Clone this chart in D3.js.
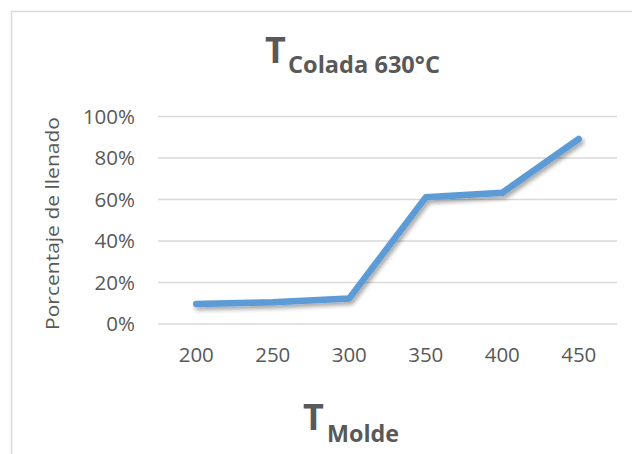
<!DOCTYPE html>
<html>
<head>
<meta charset="utf-8">
<script src="https://cdn.jsdelivr.net/npm/d3@7"></script>
<style>
  html, body { margin: 0; padding: 0; background: #fff; }
  svg { display: block; }
  text { font-family: "Open Sans", "Noto Sans", sans-serif; fill: #595959; }
</style>
</head>
<body>
<svg id="chart" width="632" height="454"></svg>
<script>
// Mould temperature (°C) categories and filling percentage
const categories = ["200", "250", "300", "350", "400", "450"];
const fillValues = [0.094, 0.102, 0.121, 0.608, 0.630, 0.889];
const yTicks = [0, 0.2, 0.4, 0.6, 0.8, 1.0];

const svg = d3.select("#chart");
const W = 632, H = 454;
const plot = { left: 158, right: 617, top: 116, bottom: 323.5 };

// Chart frame (top and left edges only visible)
svg.append("path")
  .attr("d", `M11.5,${H} V11.5 H${W}`)
  .attr("fill", "none")
  .attr("stroke", "#d9d9d9")
  .attr("stroke-width", 1.5);

const x = d3.scaleBand().domain(categories).range([plot.left, plot.right]).padding(0);
const y = d3.scaleLinear().domain([0, 1]).range([plot.bottom, plot.top]);

// Y axis with horizontal gridlines
const yAxis = d3.axisLeft(y)
  .tickValues(yTicks)
  .tickFormat(d3.format(".0%"))
  .tickSize(-(plot.right - plot.left))
  .tickPadding(23);
const gy = svg.append("g").attr("transform", `translate(${plot.left},0)`).call(yAxis);
gy.select(".domain").remove();
gy.selectAll(".tick line").attr("stroke", "#d9d9d9").attr("stroke-width", 1.5);
gy.selectAll(".tick text").attr("font-size", 20.5).attr("fill", "#595959")
  .attr("font-family", "'Open Sans', sans-serif").attr("dy", "0.36em");

// X axis category labels
const xAxis = d3.axisBottom(x).tickSize(0).tickPadding(0);
const gx = svg.append("g").attr("transform", `translate(0,${plot.bottom})`).call(xAxis);
gx.select(".domain").remove();
gx.selectAll(".tick text").attr("font-size", 20.5).attr("fill", "#595959")
  .attr("font-family", "'Open Sans', sans-serif")
  .attr("y", 0).attr("dy", 0).attr("transform", "translate(0,38.5)");

// Soft shadow beneath the line
const defs = svg.append("defs");
const f = defs.append("filter").attr("id", "shadow")
  .attr("x", "-10%").attr("y", "-10%").attr("width", "120%").attr("height", "130%");
f.append("feDropShadow").attr("dx", 2).attr("dy", 3).attr("stdDeviation", 2.2)
  .attr("flood-color", "#000").attr("flood-opacity", 0.35);

const line = d3.line()
  .x((d, i) => x(categories[i]) + x.bandwidth() / 2)
  .y(d => y(d));

svg.append("path")
  .datum(fillValues)
  .attr("d", line)
  .attr("fill", "none")
  .attr("stroke", "#5b9bd5")
  .attr("stroke-width", 6.5)
  .attr("stroke-linecap", "round")
  .attr("stroke-linejoin", "round")
  .attr("filter", "url(#shadow)");

// Chart title: T with subscript
const title = svg.append("text").attr("font-weight", "bold").attr("fill", "#595959");
title.append("tspan").attr("x", 265).attr("y", 63).attr("font-size", 36).text("T");
title.append("tspan").attr("x", 288).attr("y", 73).attr("font-size", 23)
  .attr("textLength", 152).attr("lengthAdjust", "spacingAndGlyphs").text("Colada 630°C");

// X axis title
const xt = svg.append("text").attr("font-weight", "bold").attr("fill", "#595959");
xt.append("tspan").attr("x", 303).attr("y", 430).attr("font-size", 36).text("T");
xt.append("tspan").attr("x", 327).attr("y", 442).attr("font-size", 24)
  .attr("textLength", 72).attr("lengthAdjust", "spacingAndGlyphs").text("Molde");

// Y axis title
svg.append("text")
  .attr("transform", "translate(59,223.5) rotate(-90)")
  .attr("text-anchor", "middle")
  .attr("font-size", 18.5)
  .attr("textLength", 213).attr("lengthAdjust", "spacingAndGlyphs")
  .text("Porcentaje de llenado");
</script>
</body>
</html>
